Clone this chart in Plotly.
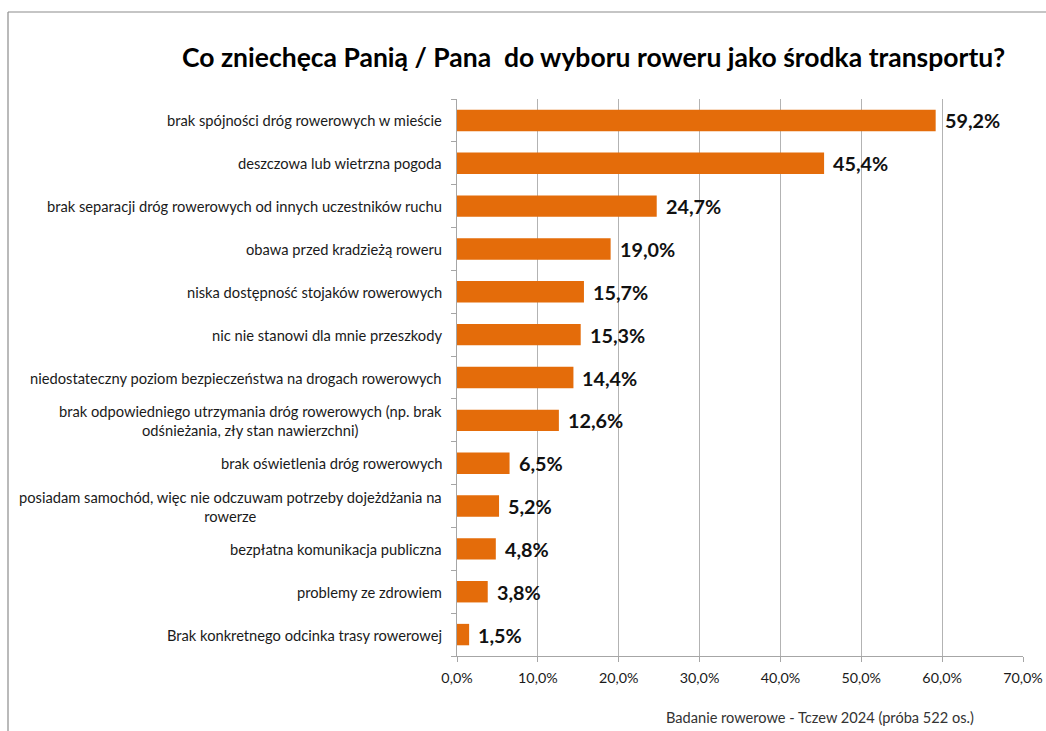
import plotly.graph_objects as go

categories = [
    "brak spójności dróg rowerowych w mieście",
    "deszczowa lub wietrzna pogoda",
    "brak separacji dróg rowerowych od innych uczestników ruchu",
    "obawa przed kradzieżą roweru",
    "niska dostępność stojaków rowerowych",
    "nic nie stanowi dla mnie przeszkody",
    "niedostateczny poziom bezpieczeństwa na drogach rowerowych",
    "brak odpowiedniego utrzymania dróg rowerowych (np. brak<br>odśnieżania, zły stan nawierzchni)",
    "brak oświetlenia dróg rowerowych",
    "posiadam samochód, więc nie odczuwam potrzeby dojeżdżania na<br>rowerze",
    "bezpłatna komunikacja publiczna",
    "problemy ze zdrowiem",
    "Brak konkretnego odcinka trasy rowerowej",
]
values = [59.2, 45.4, 24.7, 19.0, 15.7, 15.3, 14.4, 12.6, 6.5, 5.2, 4.8, 3.8, 1.5]
x_ticks = [0, 10, 20, 30, 40, 50, 60, 70]
x_tick_labels = ["0,0%", "10,0%", "20,0%", "30,0%", "40,0%", "50,0%", "60,0%", "70,0%"]

title_text = "Co zniechęca Panią / Pana  do wyboru roweru jako środka transportu?"
footer_text = "Badanie rowerowe - Tczew 2024 (próba 522 os.)"

FONT = "Lato"
ORANGE = "#E46C0A"
W, H = 1046, 731
L, R, T, B = 457, 23, 99, 75
PW, PH = W - L - R, H - T - B

ids = list(range(len(categories)))

fig = go.Figure(
    go.Bar(
        x=values,
        y=ids,
        orientation="h",
        marker=dict(color=ORANGE, line=dict(width=0)),
        width=0.5,
        hoverinfo="skip",
    )
)

annotations = []
# category labels, second line centred under the first
for i, name in zip(ids, categories):
    annotations.append(dict(
        x=0, xref="paper", y=i, yref="y", text=name, showarrow=False,
        xanchor="right", yanchor="middle", align="center", xshift=-13,
        font=dict(family=FONT, size=14.7, color="#1a1a1a"),
    ))
# value labels
for i, v in zip(ids, values):
    annotations.append(dict(
        x=v, xref="x", y=i, yref="y", text=f"<b>{v:.1f}%</b>".replace(".", ","),
        showarrow=False, xanchor="left", yanchor="middle", xshift=7,
        font=dict(family=FONT, size=19.8, color="#111"),
    ))
annotations.append(dict(
    x=(593 - L) / PW, xref="paper", y=1 + (T - 57) / PH, yref="paper",
    text=f"<b>{title_text}</b>", showarrow=False, xanchor="center", yanchor="middle",
    font=dict(family=FONT, size=26.5, color="#000"),
))
annotations.append(dict(
    x=(976 - L) / PW, xref="paper", y=-(717 - (T + PH)) / PH, yref="paper",
    text=footer_text, showarrow=False, xanchor="right", yanchor="middle",
    font=dict(family=FONT, size=14.6, color="#333"),
))

# outer chart frame
shapes = [
    dict(type="line", xref="paper", yref="paper",
         x0=(8 - L) / PW, x1=(1100 - L) / PW, y0=1 + (T - 12) / PH, y1=1 + (T - 12) / PH,
         line=dict(color="#8c8c8c", width=1.2)),
    dict(type="line", xref="paper", yref="paper",
         x0=(8 - L) / PW, x1=(8 - L) / PW, y0=1 + (T - 12) / PH, y1=-(800 - T - PH) / PH,
         line=dict(color="#8c8c8c", width=1.2)),
]

fig.update_layout(
    width=W, height=H,
    margin=dict(l=L, r=R, t=T, b=B, autoexpand=False),
    paper_bgcolor="white", plot_bgcolor="white",
    showlegend=False,
    annotations=annotations,
    shapes=shapes,
    bargap=0.5,
    xaxis=dict(
        range=[0, 70], tickvals=x_ticks, ticktext=x_tick_labels,
        showgrid=True, gridcolor="#b3b3b3", gridwidth=1,
        showline=True, linecolor="#a6a6a6", linewidth=1,
        ticks="outside", ticklen=5, tickcolor="#a6a6a6",
        ticklabelstandoff=4,
        tickfont=dict(family=FONT, size=14.3, color="#1a1a1a"),
        zeroline=False, fixedrange=True,
    ),
    yaxis=dict(
        range=[len(categories) - 0.5, -0.5],
        tickvals=[i - 0.5 for i in ids] + [len(categories) - 0.5],
        ticktext=[""] * (len(categories) + 1),
        showgrid=False, zeroline=False,
        showline=True, linecolor="#a6a6a6", linewidth=1,
        ticks="outside", ticklen=5, tickcolor="#a6a6a6",
        fixedrange=True,
    ),
    font=dict(family=FONT),
)

fig.write_html("out.html", config={"displayModeBar": False})
